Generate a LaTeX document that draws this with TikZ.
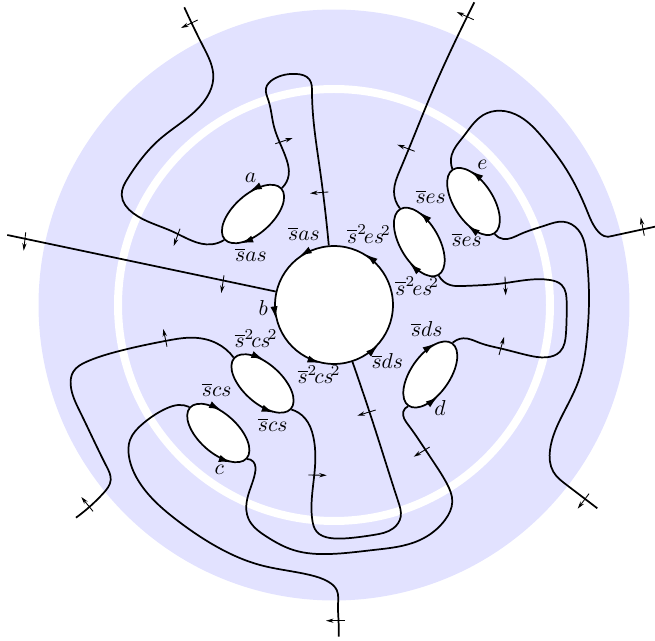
\documentclass[tikz,border=0pt]{standalone}
\usepackage{amsmath}
\usepackage{xcolor}
\usepackage{tikz}
\usetikzlibrary{arrows.meta,shapes.geometric,hobby}
\definecolor{DiscBlue}{RGB}{226,226,255}

\begin{document}
\begin{tikzpicture}[
    x=0.46296pt, y=-0.46296pt,
    disc/.style={circle, fill=DiscBlue, inner sep=0pt, minimum size=273.6pt},
    collar/.style={circle, draw=white, line width=3.7pt, inner sep=0pt, minimum size=200pt},
    puncture/.style={circle, draw=black, fill=white, thick, inner sep=0pt, minimum size=54.6pt},
    hole/.style={ellipse, draw=black, fill=white, thick, inner sep=0pt, minimum width=35.2pt, minimum height=18pt},
    strand/.style={draw=black, thick, use Hobby shortcut},
    rimtip/.style={-{Latex[length=5.6pt,width=3.4pt]}, thick, draw=black},
    orient/.style={-{Stealth[length=3.5pt,width=2pt]}, thin, draw=black}
  ]
    \useasboundingbox (0,0) rectangle (655,641);
    \node[disc] (outer) at (334,305) {};
    \node[collar] (ring) at (334,305) {};
    \node[puncture] (b) at (334,305) {};
    \node[hole, rotate=42] (a) at (253,214) {};
    \node[hole, rotate=-57] (e) at (473.5,201.5) {};
    \node[hole, rotate=-60] (esq) at (419.3,242) {};
    \node[hole, rotate=55] (d) at (430.3,374.5) {};
    \node[hole, rotate=-42] (csq) at (262.5,383.5) {};
    \node[hole, rotate=-42] (c) at (218.3,433) {};
    \draw[rimtip] (b.47) -- (b.58);
    \draw[rimtip] (b.114) -- (b.125);
    \draw[rimtip] (b.183) -- (b.193);
    \draw[rimtip] (b.246) -- (b.256);
    \draw[rimtip] (b.307) -- (b.317);
    \draw[rimtip] (a.34) -- (a.56);
    \draw[rimtip] (a.225) -- (a.206);
    \draw[rimtip] (e.131) -- (e.151);
    \draw[rimtip] (e.333) -- (e.314);
    \draw[rimtip] (esq.127) -- (esq.149);
    \draw[rimtip] (esq.328) -- (esq.306);
    \draw[rimtip] (d.46) -- (d.27);
    \draw[rimtip] (d.211) -- (d.233);
    \draw[rimtip] (csq.151) -- (csq.130);
    \draw[rimtip] (csq.314) -- (csq.333);
    \draw[rimtip] (c.147) -- (c.125);
    \draw[rimtip] (c.317) -- (c.335);
    \coordinate (endnw) at (184.3,7.3);
    \coordinate (endw) at (7.3,235);
    \coordinate (endn) at (474.3,2.3);
    \coordinate (ende) at (655,226.7);
    \coordinate (endse) at (597.3,508.3);
    \coordinate (endsw) at (76,517.7);
    \coordinate (ends) at (338.7,636.7);
    \draw[strand] (endnw) .. (203.3,46.7) .. (213.3,78.3) .. (207,97) .. (160,139) .. (128,178) .. (121.7,195) .. (133.3,213.3) .. (173,231.7) .. (211.7,244.3) .. (a.west);
    \draw[strand] (a.east) .. (288.7,175) .. (286.7,160) .. (274,126.7) .. (268.3,100) .. (266,88.3) .. (273.3,79.3) .. (296.7,74) .. (309.3,79.3) .. (312,92) .. (320,170) .. (b.95.5);
    \draw[strand] (endw) -- (b.167.4);
    \draw[strand] (endn) .. (459,33.3) .. (430,97) .. (400,170) .. (394,191.7) .. (esq.west);
    \draw[strand] (e.west) .. (451.7,155) .. (463.3,136.7) .. (483.3,115) .. (500,110.7) .. (520,116.7) .. (543.3,138.3) .. (566.7,170) .. (586.7,210) .. (598.3,231.7) .. (604,236) .. (612,236) -- (ende);
    \draw[strand] (e.east) .. (503.3,239) .. (520,234.3) .. (546.7,225) .. (563.3,221.7) .. (578.3,230) .. (586.7,256.7) .. (589,300) .. (586.7,340) .. (580,376.7) .. (563.3,413.3) .. (550,450) .. (553.3,471.7) .. (566.7,485) .. (endse);
    \draw[strand] (esq.east) .. (450,285) .. (463.3,286) .. (503.3,283.3) .. (550,280) .. (561.7,285) .. (566.7,303) .. (566,333) .. (560,351.7) .. (546.7,357.3) .. (526.7,355) .. (500,348.3) .. (480,343) .. (463.3,338.3) .. (456.7,340) .. (d.east);
    \draw[strand] (d.west) .. (403.3,411.7) .. (408.3,425) .. (430,456.7) .. (446.7,483.3) .. (452.3,501.7) .. (445,520) .. (420,540) .. (373.3,550) .. (330,554) .. (293.3,550) .. (266.7,536.7) .. (248.3,518.3) .. (246.7,501.7) .. (255,473.3) .. (253.3,461.7) .. (c.east);
    \draw[strand] (b.288) .. (376,432) .. (398.3,501.7) .. (400.7,516.7) .. (393.3,528.3) .. (373.3,535) .. (346.7,538.3) .. (330,538) .. (316.7,531.7) .. (312.3,520) .. (315,466.7) .. (313.3,436.7) .. (305,418.3) .. (csq.east);
    \draw[strand] (csq.west) .. (216.7,343.3) .. (193.3,337.7) .. (166.7,340.7) .. (116.7,351.7) .. (86.7,361.7) .. (73.3,371.7) .. (70.7,385) .. (80,411.7) .. (106.7,466.7) .. (110.7,480) .. (103.3,493.3) .. (endsw);
    \draw[strand] (c.west) .. (178.3,405) .. (166.7,408.3) .. (143.3,423.3) .. (130,440) .. (129,456.7) .. (140,483.3) .. (176.7,520) .. (216.7,546.7) .. (260,565) .. (310,575) .. (328.3,581.7) .. (336.7,590) .. (338,605) .. (338.5,620) .. (ends);
    \draw[orient] (197.7,20) -- (181,28);
    \draw[orient] (275.3,143.7) -- (292.7,138);
    \draw[orient] (328.3,192) -- (310,193.3);
    \draw[orient] (180,228.7) -- (173.7,246);
    \draw[orient] (25.7,232.3) -- (23.7,250.7);
    \draw[orient] (224,275.3) -- (221.3,293);
    \draw[orient] (473.7,19.7) -- (456.7,12);
    \draw[orient] (414.7,151.3) -- (397.3,144.7);
    \draw[orient] (644.3,235.7) -- (640.7,217.3);
    \draw[orient] (505,276.7) -- (505.7,295.3);
    \draw[orient] (167,346.7) -- (163.3,329);
    \draw[orient] (93,511.3) -- (81.3,497);
    \draw[orient] (308.3,475) -- (326.7,475.3);
    \draw[orient] (375.7,410) -- (357.3,415.7);
    \draw[orient] (429.7,447) -- (413.7,456.7);
    \draw[orient] (499,355) -- (504,337);
    \draw[orient] (589,493.7) -- (577.7,508.7);
    \draw[orient] (345,620.7) -- (326,620.7);
    \node (labela) at (250.7,178.3) {$a$};
    \node (labelb) at (263.3,307.7) {$b$};
    \node (labelc) at (219.3,470) {$c$};
    \node (labeld) at (440,407.7) {$d$};
    \node (labele) at (482.3,165) {$e$};
    \node (sasa) at (251,255) {$\overline{s}as$};
    \node (sasb) at (304,234) {$\overline{s}as$};
    \node (sesqtop) at (369,234) {$\overline{s}^2\mkern-2.5mu e{s\mkern-2.5mu}^2$};
    \node (sesqlow) at (417.3,286) {$\overline{s}^2\mkern-2.5mu e{s\mkern-2.5mu}^2$};
    \node (sesa) at (430.7,197) {$\overline{s}es$};
    \node (sesb) at (466.7,239.5) {$\overline{s}es$};
    \node (scsqa) at (256,338.5) {$\overline{s}^2\mkern-2.5mu c{s\mkern-2.5mu}^2$};
    \node (scsqb) at (319,374.5) {$\overline{s}^2\mkern-2.5mu c{s\mkern-2.5mu}^2$};
    \node (sdsb) at (387.3,361) {$\overline{s}ds$};
    \node (sdsa) at (426.7,329.5) {$\overline{s}ds$};
    \node (scsa) at (216.7,389.5) {$\overline{s}cs$};
    \node (scsb) at (272.7,424.5) {$\overline{s}cs$};
  \end{tikzpicture}
\end{document}
